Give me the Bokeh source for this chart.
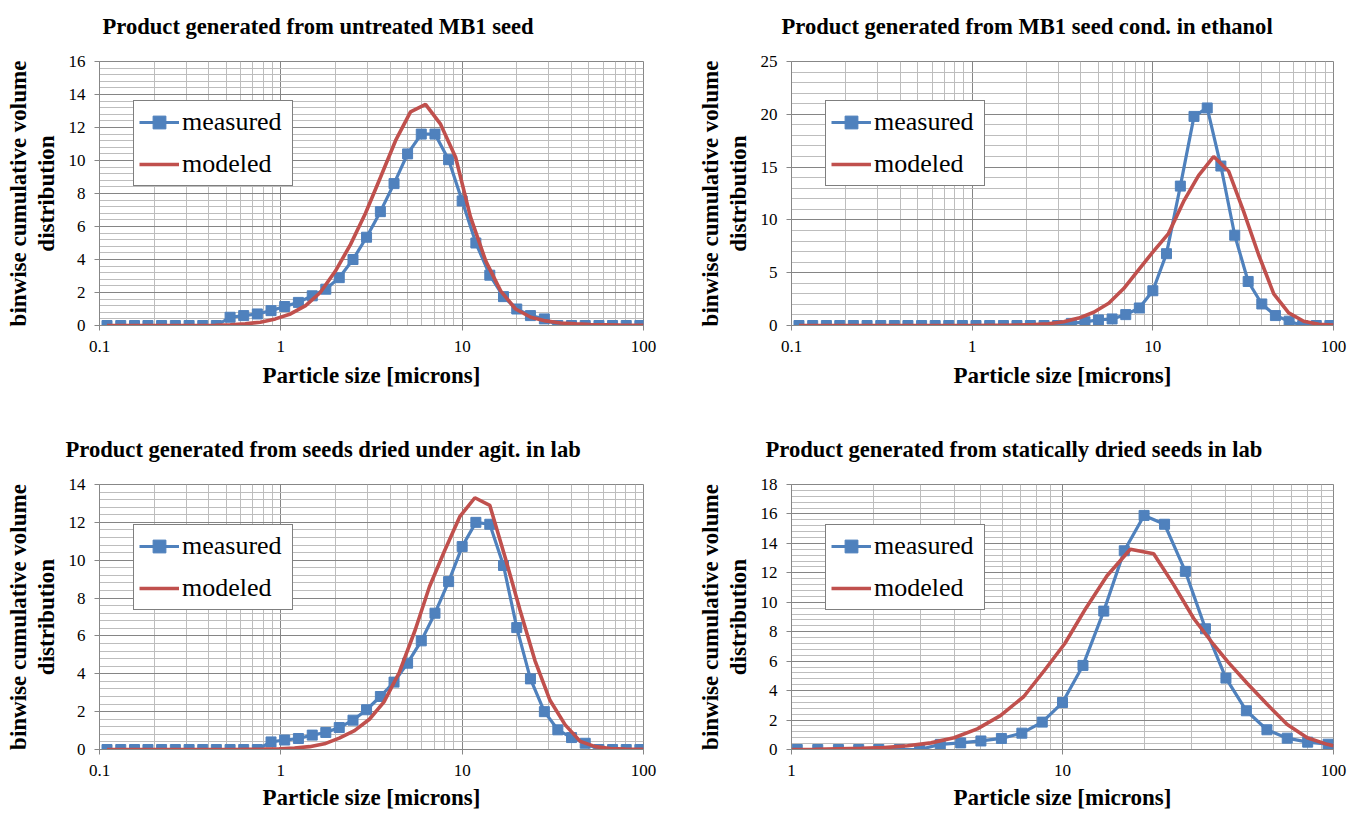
from bokeh.plotting import figure
from bokeh.models import (Range1d, FixedTicker, SingleIntervalTicker, Legend, LegendItem,
                          Title, CustomJSTickFormatter)
from bokeh.layouts import column, row
from bokeh.embed import file_html
from bokeh.resources import INLINE

BLUE = "#4F81BD"
RED = "#C0504D"
SERIF = "Liberation Serif"

# ---------------- data ----------------
titles = [
    "Product generated from untreated MB1 seed",
    "Product generated from MB1 seed cond. in ethanol",
    "Product generated from seeds dried under agit. in lab",
    "Product generated from statically dried seeds in lab",
]
x_title = "Particle size [microns]"
y_title = "binwise cumulative volume\ndistribution"
legend_labels = ["measured", "modeled"]

# measured size bins (microns)
size_bins = [0.110, 0.131, 0.156, 0.185, 0.220, 0.262, 0.312, 0.371, 0.441, 0.525,
             0.624, 0.742, 0.883, 1.05, 1.25, 1.49, 1.77, 2.10, 2.50, 2.97,
             3.54, 4.21, 5.00, 5.95, 7.08, 8.42, 10.0, 11.9, 14.2, 16.9,
             20.0, 23.8, 28.4, 33.7, 40.1, 47.7, 56.8, 67.5, 80.3, 95.5]

# chart 1: untreated MB1 seed
meas_untreated = [0, 0, 0, 0, 0, 0, 0, 0, 0, 0.5,
                  0.6, 0.7, 0.9, 1.15, 1.4, 1.8, 2.2, 2.9, 4.0, 5.35,
                  6.9, 8.6, 10.4, 11.6, 11.6, 10.05, 7.55, 5.0, 3.05, 1.75,
                  1.0, 0.6, 0.4, 0, 0, 0, 0, 0, 0, 0]
model_untreated_x = [0.11, 0.139, 0.168, 0.203, 0.245, 0.297, 0.360, 0.435, 0.527, 0.637,
                     0.771, 0.933, 1.13, 1.37, 1.65, 2.00, 2.42, 2.93, 3.55, 4.29,
                     5.19, 6.28, 7.60, 9.20, 11.1, 13.5, 16.3, 19.7, 23.9, 28.9,
                     34.9, 42.3, 51.2, 61.9, 74.9, 100]
model_untreated_y = [0, 0, 0, 0, 0, 0, 0, 0.01, 0.04, 0.1,
                     0.2, 0.4, 0.7, 1.2, 2.0, 3.3, 4.9, 6.8, 9.0, 11.2,
                     12.95, 13.4, 12.2, 10.2, 6.6, 3.9, 2.1, 1.0, 0.5, 0.28,
                     0.15, 0.1, 0.06, 0.04, 0.02, 0.01]

# chart 2: MB1 seed conditioned in ethanol
meas_ethanol = [0, 0, 0, 0, 0, 0, 0, 0, 0, 0,
                0, 0, 0, 0, 0, 0, 0, 0, 0, 0,
                0.2, 0.35, 0.53, 0.62, 1.03, 1.66, 3.29, 6.8, 13.2, 19.8,
                20.6, 15.1, 8.55, 4.17, 2.04, 0.94, 0.41, 0, 0, 0]
model_ethanol_x = [0.11, 0.151, 0.183, 0.221, 0.268, 0.324, 0.393, 0.475, 0.575, 0.697,
                   0.843, 1.02, 1.24, 1.50, 1.81, 2.19, 2.65, 3.21, 3.89, 4.71,
                   5.70, 6.90, 8.36, 10.1, 12.2, 14.8, 17.9, 21.7, 26.3, 31.8,
                   38.5, 46.7, 56.5, 68.4, 82.8, 100]
model_ethanol_y = [0, 0, 0, 0, 0, 0, 0, 0, 0, 0,
                   0, 0, 0.01, 0.02, 0.04, 0.08, 0.17, 0.35, 0.7, 1.25,
                   2.1, 3.5, 5.3, 7.05, 8.7, 11.75, 14.2, 16.0, 14.6, 10.8,
                   6.7, 3.0, 1.2, 0.4, 0.12, 0.05]

# chart 3: seeds dried under agitation in lab
meas_agitated = [0, 0, 0, 0, 0, 0, 0, 0, 0, 0,
                 0, 0, 0.4, 0.5, 0.58, 0.76, 0.9, 1.16, 1.55, 2.1,
                 2.8, 3.56, 4.56, 5.74, 7.2, 8.87, 10.72, 12.0, 11.9, 9.72,
                 6.44, 3.73, 2.0, 1.04, 0.63, 0.33, 0, 0, 0, 0]
model_agitated_x = [0.11, 0.145, 0.175, 0.212, 0.257, 0.311, 0.377, 0.456, 0.552, 0.668,
                    0.81, 0.98, 1.19, 1.44, 1.74, 2.10, 2.55, 3.08, 3.7, 4.5,
                    5.5, 6.6, 8.0, 9.7, 11.75, 14.2, 17.2, 20.8, 25.2, 30.5,
                    37.0, 44.8, 54.2, 65.6, 79.4, 100]
model_agitated_y = [0, 0, 0, 0, 0, 0, 0, 0, 0, 0.01,
                    0.02, 0.04, 0.08, 0.15, 0.3, 0.6, 1.0, 1.6, 2.5, 4.07,
                    6.3, 8.6, 10.5, 12.3, 13.3, 12.9, 10.2, 7.4, 4.7, 2.6,
                    1.3, 0.43, 0.15, 0.05, 0.02, 0.01]

# chart 4: statically dried seeds in lab (bins from 1.05 micron)
meas_static_x = size_bins[13:]
meas_static = [0, 0, 0, 0, 0, 0, 0,
               0.35, 0.45, 0.58, 0.75, 1.11, 1.86, 3.19, 5.71, 9.4, 13.5,
               15.9, 15.3, 12.1, 8.2, 4.85, 2.63, 1.34, 0.77, 0.5, 0.36]
model_static_x = [1.0, 1.22, 1.48, 1.81, 2.20, 2.68, 3.27, 3.98, 4.85, 5.9,
                  7.2, 8.6, 10.2, 12.2, 14.6, 17.8, 21.7, 25.7, 30.5, 35.5,
                  41.0, 48.0, 57.0, 67.5, 80.0, 94.8, 100]
model_static_y = [0, 0.02, 0.05, 0.08, 0.13, 0.25, 0.45, 0.8, 1.4, 2.3,
                  3.6, 5.4, 7.2, 9.6, 11.8, 13.6, 13.3, 11.2, 8.9, 7.3,
                  5.9, 4.5, 3.05, 1.7, 0.8, 0.35, 0.25]


def decades(lo_exp, hi_exp):
    major = [10.0 ** e if e < 0 else float(10 ** e) for e in range(lo_exp, hi_exp + 1)]
    minor = [round(m * 10.0 ** e, 6) for e in range(lo_exp, hi_exp) for m in range(2, 10)]
    return major, minor


def make_panel(title, title_offset, mx, my, modx, mody, x_lo_exp, y_max, y_step,
               width, height, b_left, b_right, b_top, b_bottom, xlabel_standoff):
    major, minor = decades(x_lo_exp, 2)
    p = figure(width=width, height=height, x_axis_type="log",
               x_range=Range1d(10.0 ** x_lo_exp, 100), y_range=Range1d(0, y_max),
               output_backend="svg", toolbar_location=None,
               min_border_left=b_left, min_border_right=b_right,
               min_border_top=b_top, min_border_bottom=b_bottom)
    p.title = Title(text=title + "\n ", align="left", offset=title_offset,
                    vertical_align="bottom", standoff=0,
                    text_font=SERIF, text_font_style="bold", text_font_size="22.6px",
                    text_color="black", text_line_height=0.9)
    p.background_fill_color = "white"
    p.border_fill_color = "white"
    p.outline_line_color = "#878787"
    p.outline_line_width = 1

    xt = FixedTicker(ticks=major, minor_ticks=minor)
    yt = SingleIntervalTicker(interval=y_step, num_minor_ticks=5)
    p.xaxis.ticker = xt
    p.xgrid.ticker = xt
    p.yaxis.ticker = yt
    p.ygrid.ticker = yt
    p.xaxis.formatter = CustomJSTickFormatter(code="return tick.toString();")

    for g in (p.xgrid, p.ygrid):
        g.grid_line_color = "#858585"
        g.grid_line_width = 1
        g.minor_grid_line_color = "#bdbdbd"
        g.minor_grid_line_width = 1

    for ax in (p.xaxis, p.yaxis):
        ax.axis_line_color = "#878787"
        ax.major_tick_line_color = "#878787"
        ax.major_tick_out = 5
        ax.major_tick_in = 0
        ax.minor_tick_out = 0
        ax.minor_tick_in = 0
        ax.major_label_text_font = SERIF
        ax.major_label_text_font_size = "17px"
        ax.major_label_text_color = "black"
        ax.axis_label_text_font = SERIF
        ax.axis_label_text_font_style = "bold"
        ax.axis_label_text_font_size = "23px"
        ax.axis_label_text_color = "black"
    p.xaxis.major_label_standoff = 10
    p.yaxis.major_label_standoff = 9
    p.xaxis.axis_label = x_title
    p.xaxis.axis_label_standoff = xlabel_standoff
    p.yaxis.axis_label = y_title
    p.yaxis.axis_label_standoff = 7
    p.yaxis.axis_label_text_line_height = 1.1

    l_meas = p.line(mx, my, line_color=BLUE, line_width=3.2)
    s_meas = p.scatter(mx, my, marker="square", size=10, fill_color=BLUE, line_color=BLUE)
    l_mod = p.line(modx, mody, line_color=RED, line_width=3.6)

    legend = Legend(items=[LegendItem(label=legend_labels[0], renderers=[l_meas, s_meas]),
                           LegendItem(label=legend_labels[1], renderers=[l_mod])],
                    location=(34, 139))
    legend.border_line_color = "black"
    legend.border_line_width = 1.5
    legend.background_fill_color = "white"
    legend.background_fill_alpha = 1
    legend.padding = 5
    legend.spacing = 10
    legend.margin = 0
    legend.glyph_width = 40
    legend.glyph_height = 32
    legend.label_height = 32
    legend.label_width = 105
    legend.label_standoff = 3
    legend.label_text_font = SERIF
    legend.label_text_font_size = "26px"
    legend.label_text_color = "black"
    p.add_layout(legend)
    return p


p1 = make_panel(titles[0], 3, size_bins, meas_untreated, model_untreated_x, model_untreated_y,
                -1, 16, 2, 680, 420, 99, 37, 61, 95, 8)
p2 = make_panel(titles[1], -10, size_bins, meas_ethanol, model_ethanol_x, model_ethanol_y,
                -1, 25, 5, 673, 420, 111, 20, 61, 95, 8)
p3 = make_panel(titles[2], -34, size_bins, meas_agitated, model_agitated_x, model_agitated_y,
                -1, 14, 2, 680, 393, 99, 37, 64, 64, 6)
p4 = make_panel(titles[3], -26, meas_static_x, meas_static, model_static_x, model_static_y,
                0, 18, 2, 673, 393, 111, 20, 64, 64, 6)

layout = column(row(p1, p2), row(p3, p4))
open("out.html", "w").write(file_html(layout, INLINE))
